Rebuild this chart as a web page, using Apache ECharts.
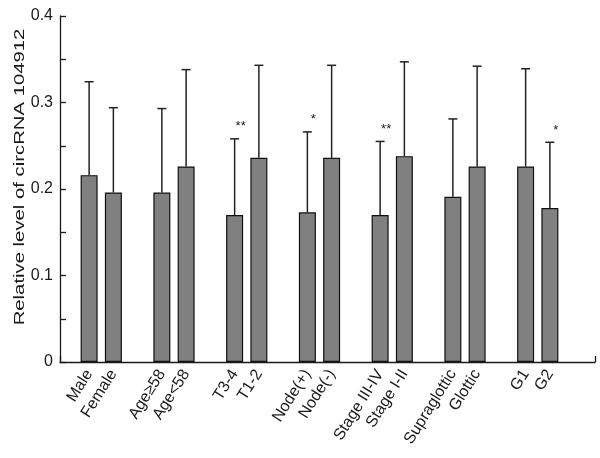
<!DOCTYPE html>
<html>
<head>
<meta charset="utf-8">
<script src="https://cdn.jsdelivr.net/npm/echarts@6/dist/echarts.min.js"></script>
<style>
  html, body { margin: 0; padding: 0; background: #fff; }
  #chart { width: 600px; height: 458px; }
</style>
</head>
<body>
<div id="chart"></div>
<script>
// pairs of groups
const groups = [
  ['Male', 'Female'],
  ['Age≥58', 'Age<58'],
  ['T3-4', 'T1-2'],
  ['Node(+)', 'Node(-)'],
  ['Stage III-IV', 'Stage I-II'],
  ['Supraglottic', 'Glottic'],
  ['G1', 'G2']
];
const means = [0.216, 0.196, 0.196, 0.226, 0.170, 0.236, 0.173, 0.236, 0.170, 0.238, 0.191, 0.226, 0.226, 0.178];
const errTops = [0.324, 0.294, 0.293, 0.338, 0.258, 0.343, 0.266, 0.343, 0.255, 0.347, 0.281, 0.342, 0.339, 0.254];
const marks = ['', '', '', '', '**', '', '*', '', '**', '', '', '', '', '*'];
const yTicks = [0, 0.1, 0.2, 0.3, 0.4];
const yName = 'Relative level of circRNA 104912';

// build the category list with a blank slot between pairs
const cats = [];
const barData = [];
const errData = [];
let k = 0;
groups.forEach((g, gi) => {
  if (gi > 0) { cats.push(''); barData.push(null); }
  g.forEach(name => {
    cats.push(name);
    barData.push(means[k]);
    errData.push([cats.length - 1, means[k], errTops[k], marks[k]]);
    k++;
  });
});

const font = '"Liberation Sans", Arial, sans-serif';
const ink = '#1a1a1a';

const chart = echarts.init(document.getElementById('chart'));
chart.setOption({
  backgroundColor: '#fff',
  animation: false,
  grid: [
    { left: 60, right: 5, top: 16, bottom: 96 },
    { left: 77, width: 485, top: 16, bottom: 96 }
  ],
  // the original's axis title is drawn stretched along its length
  graphic: [{
    type: 'text', x: 20, y: 177, rotation: Math.PI / 2, scaleX: 1.45,
    style: {
      text: yName, font: '14px ' + font, fill: ink,
      align: 'center', verticalAlign: 'middle'
    }
  }],
  xAxis: [
    {
      gridIndex: 0, type: 'value', min: 0, max: 1, interval: 1,
      axisLine: { show: true, lineStyle: { color: ink, width: 1.3 } },
      axisTick: { show: true, inside: true, length: 6, lineStyle: { color: ink, width: 1.3 } },
      axisLabel: { show: false },
      splitLine: { show: false }
    },
    {
      gridIndex: 1, type: 'category', data: cats,
      axisLine: { show: false },
      axisTick: { show: false },
      axisLabel: {
        interval: 0, rotate: 58, margin: 9,
        fontFamily: font, fontSize: 16, color: ink
      }
    }
  ],
  yAxis: [
    {
      gridIndex: 0, type: 'value', min: 0, max: 0.4, interval: 0.05,
      axisLine: { show: true, lineStyle: { color: ink, width: 1.3 } },
      axisTick: { show: true, inside: true, length: 6, lineStyle: { color: ink, width: 1.3 } },
      axisLabel: {
        fontFamily: font, fontSize: 16, color: ink, margin: 7,
        formatter: v => {
          const t = yTicks.find(y => Math.abs(y - v) < 1e-6);
          return t === undefined ? '' : (t === 0 ? '0' : t.toFixed(1));
        }
      },
      splitLine: { show: false }
    },
    {
      gridIndex: 1, type: 'value', min: 0, max: 0.4, show: false
    }
  ],
  series: [
    {
      type: 'bar', xAxisIndex: 1, yAxisIndex: 1,
      data: barData, barWidth: 17,
      itemStyle: { color: '#808080', borderColor: '#111', borderWidth: 1.2 },
      z: 3
    },
    {
      type: 'custom', xAxisIndex: 1, yAxisIndex: 1,
      data: errData,
      z: 2,
      renderItem: (params, api) => {
        const base = api.coord([api.value(0), api.value(1)]);
        const top = api.coord([api.value(0), api.value(2)]);
        const half = 4.5;
        const children = [
          { type: 'line', shape: { x1: base[0], y1: base[1], x2: top[0], y2: top[1] },
            style: { stroke: '#222', lineWidth: 1.5 } },
          { type: 'line', shape: { x1: top[0] - half, y1: top[1], x2: top[0] + half, y2: top[1] },
            style: { stroke: '#222', lineWidth: 1.5 } }
        ];
        const m = errData[params.dataIndex][3];
        if (m) {
          children.push({
            type: 'text',
            style: {
              text: m, x: top[0] + 6, y: top[1] - 12,
              align: 'center', verticalAlign: 'middle',
              font: '13px ' + font, fill: ink
            }
          });
        }
        return { type: 'group', children: children };
      }
    }
  ]
});
</script>
</body>
</html>
